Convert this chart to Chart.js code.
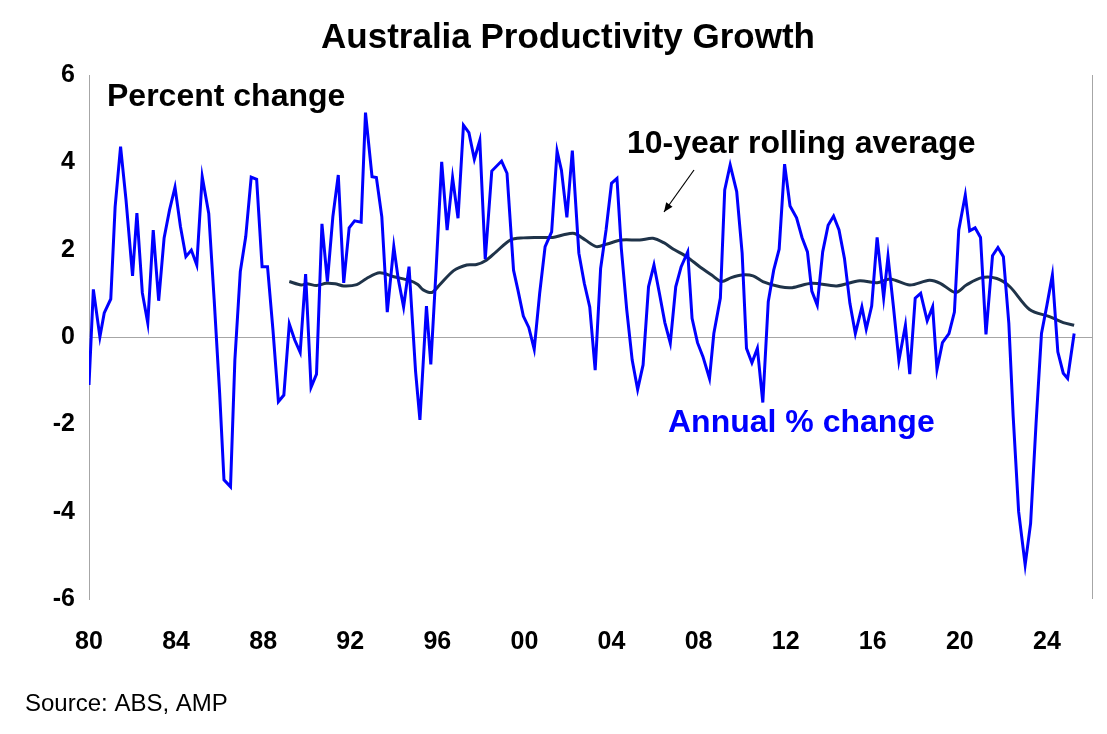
<!DOCTYPE html>
<html><head><meta charset="utf-8">
<script src="https://cdn.jsdelivr.net/npm/chart.js@4"></script>
<style>body{margin:0;background:#fff}</style>
</head><body>
<canvas id="c" width="1107" height="734"></canvas>
<script>
// annual % change, quarterly points (decimal year)
let annualYears = [1980.0,1980.2,1980.5,1980.7,1981.0,1981.2,1981.45,1981.7,1982.0,1982.2,1982.45,1982.7,1982.95,1983.2,1983.45,1983.7,1983.95,1984.2,1984.45,1984.7,1984.95,1985.2,1985.5,1985.75,1986.0,1986.2,1986.5,1986.7,1986.95,1987.2,1987.45,1987.7,1987.95,1988.2,1988.45,1988.7,1988.95,1989.2,1989.45,1989.7,1989.95,1990.2,1990.45,1990.7,1990.95,1991.2,1991.45,1991.7,1991.95,1992.2,1992.5,1992.7,1993.0,1993.2,1993.45,1993.7,1994.0,1994.2,1994.45,1994.7,1995.0,1995.2,1995.5,1995.7,1995.95,1996.2,1996.45,1996.7,1996.95,1997.2,1997.45,1997.7,1997.95,1998.2,1998.5,1998.95,1999.2,1999.5,1999.7,1999.95,2000.2,2000.45,2000.7,2000.95,2001.25,2001.5,2001.7,2001.95,2002.2,2002.5,2002.75,2003.0,2003.25,2003.5,2003.75,2004.0,2004.25,2004.45,2004.7,2004.95,2005.2,2005.45,2005.7,2005.95,2006.2,2006.45,2006.7,2006.95,2007.2,2007.5,2007.7,2007.95,2008.2,2008.5,2008.7,2009.0,2009.2,2009.45,2009.75,2010.0,2010.2,2010.45,2010.7,2010.95,2011.2,2011.45,2011.7,2011.95,2012.2,2012.5,2012.75,2013.0,2013.2,2013.45,2013.7,2013.95,2014.2,2014.45,2014.7,2014.95,2015.2,2015.5,2015.7,2015.95,2016.2,2016.5,2016.7,2016.95,2017.2,2017.5,2017.7,2017.95,2018.2,2018.5,2018.75,2018.95,2019.2,2019.5,2019.75,2019.95,2020.25,2020.45,2020.7,2020.95,2021.2,2021.5,2021.75,2022.0,2022.25,2022.45,2022.7,2023.0,2023.25,2023.5,2023.75,2024.0,2024.25,2024.5,2024.75,2024.95,2025.25];
let annualValues = [-1.10,1.09,0.0,0.55,0.87,2.98,4.36,3.14,1.40,2.84,1.01,0.32,2.45,0.83,2.27,2.91,3.43,2.53,1.84,1.99,1.65,3.67,2.83,0.85,-1.28,-3.27,-3.43,-0.53,1.50,2.30,3.66,3.61,1.61,1.61,0.16,-1.48,-1.33,0.30,-0.07,-0.35,1.44,-1.15,-0.85,2.59,1.27,2.75,3.71,1.24,2.50,2.66,2.63,5.14,3.67,3.65,2.75,0.57,2.07,1.34,0.69,1.61,-0.79,-1.90,0.71,-0.63,1.61,4.01,2.45,3.65,2.72,4.85,4.68,4.07,4.50,1.78,3.80,4.03,3.75,1.53,1.08,0.48,0.22,-0.28,1.00,2.07,2.41,4.26,3.82,2.74,4.27,1.92,1.23,0.69,-0.76,1.57,2.45,3.52,3.63,2.03,0.62,-0.53,-1.20,-0.64,1.15,1.65,1.00,0.33,-0.14,1.15,1.61,1.95,0.43,-0.13,-0.45,-0.95,0.08,0.89,3.37,3.94,3.33,1.92,-0.26,-0.59,-0.26,-1.50,0.81,1.53,2.01,3.96,3.00,2.73,2.28,1.95,1.05,0.73,1.95,2.56,2.77,2.45,1.80,0.77,0.08,0.69,0.18,0.71,2.28,0.90,1.84,0.69,-0.54,0.27,-0.85,0.89,1.00,0.37,0.69,-0.74,-0.13,0.08,0.57,2.45,3.25,2.43,2.50,2.28,0.06,1.86,2.05,1.84,0.31,-1.82,-4.00,-5.22,-4.27,-1.98,0.08,0.73,1.42,-0.34,-0.83,-0.95,0.08];

// 10-year rolling average
let avgYears = [1989.2,1989.75,1990.0,1990.45,1990.9,1991.3,1991.7,1992.3,1992.75,1993.35,1994.0,1994.75,1995.1,1995.35,1995.75,1996.1,1996.75,1997.35,1997.8,1998.25,1998.7,1999.35,1999.95,2000.55,2001.3,2001.8,2002.3,2002.8,2003.3,2003.8,2004.45,2005.3,2005.9,2006.4,2006.85,2007.45,2008.05,2008.6,2009.05,2009.5,2010.0,2010.5,2010.95,2011.75,2012.3,2013.2,2014.35,2015.4,2016.2,2016.8,2017.7,2018.6,2019.1,2019.8,2020.3,2021.0,2021.7,2022.3,2023.2,2024.15,2024.75,2025.25];
let avgValues = [1.27,1.19,1.22,1.18,1.23,1.22,1.17,1.20,1.34,1.47,1.38,1.29,1.20,1.08,1.02,1.19,1.52,1.65,1.66,1.76,1.95,2.22,2.27,2.28,2.28,2.34,2.37,2.22,2.07,2.13,2.22,2.22,2.26,2.16,2.01,1.84,1.61,1.42,1.27,1.36,1.42,1.40,1.27,1.15,1.13,1.23,1.17,1.29,1.24,1.33,1.19,1.30,1.23,1.02,1.19,1.36,1.34,1.15,0.63,0.46,0.33,0.27];

let xTicks = [1980,1984,1988,1992,1996,2000,2004,2008,2012,2016,2020,2024];
let yTicks = [-6,-4,-2,0,2,4,6];

function toPoints(xs, ys) {
    return xs.map((x, i) => ({x: x, y: ys[i]}));
}

let F = '"Liberation Sans", Arial, sans-serif';

let decorPlugin = {
    id: 'decor',
    afterDraw(chart) {
        let ctx = chart.ctx;
        let a = chart.chartArea;
        ctx.save();
        ctx.strokeStyle = '#a6a6a6';
        ctx.lineWidth = 1;
        ctx.beginPath();
        ctx.moveTo(a.right + 0.5, a.top);
        ctx.lineTo(a.right + 0.5, a.bottom);
        ctx.stroke();

        ctx.fillStyle = '#000';
        ctx.textBaseline = 'middle';
        ctx.textAlign = 'center';
        ctx.font = 'bold 35px ' + F;
        ctx.fillText('Australia Productivity Growth', 568, 38);
        ctx.textAlign = 'left';
        ctx.font = 'bold 32px ' + F;
        ctx.fillText('Percent change', 107, 97);
        ctx.fillText('10-year rolling average', 627, 144);
        ctx.fillStyle = '#0000ff';
        ctx.fillText('Annual % change', 668, 423);
        ctx.fillStyle = '#000';
        ctx.font = '24px ' + F;
        ctx.fillText('Source: ABS, AMP', 25, 704);

        // arrow
        let x1 = 694, y1 = 170, x2 = 664, y2 = 212;
        ctx.strokeStyle = '#000';
        ctx.lineWidth = 1.2;
        ctx.beginPath(); ctx.moveTo(x1, y1); ctx.lineTo(x2, y2); ctx.stroke();
        let ang = Math.atan2(y2 - y1, x2 - x1);
        ctx.beginPath();
        ctx.moveTo(x2, y2);
        ctx.lineTo(x2 - 10 * Math.cos(ang - 0.4), y2 - 10 * Math.sin(ang - 0.4));
        ctx.lineTo(x2 - 10 * Math.cos(ang + 0.4), y2 - 10 * Math.sin(ang + 0.4));
        ctx.closePath(); ctx.fill();
        ctx.restore();
    }
};

new Chart(document.getElementById('c'), {
    type: 'line',
    data: {
        datasets: [
            { data: toPoints(annualYears, annualValues), borderColor: '#0000ff', borderWidth: 3, pointRadius: 0, tension: 0 },
            { data: toPoints(avgYears, avgValues), borderColor: '#1f3349', borderWidth: 3, pointRadius: 0, tension: 0.3 }
        ]
    },
    options: {
        responsive: false,
        animation: false,
        layout: { padding: { top: 75, bottom: 75, left: 0, right: 15 } },
        plugins: { legend: { display: false }, tooltip: { enabled: false } },
        scales: {
            x: {
                type: 'linear', min: 1980, max: 2026.07,
                afterBuildTicks: s => { s.ticks = xTicks.map(v => ({value: v})); },
                afterFit: s => { s.height = 60; },
                grid: { display: false },
                border: { display: false },
                ticks: { color: '#000', font: { family: F, size: 25, weight: 'bold' }, padding: 20, maxRotation: 0,
                    callback: v => String(v % 100).padStart(2, '0') }
            },
            y: {
                min: -6, max: 6,
                afterBuildTicks: s => { s.ticks = yTicks.map(v => ({value: v})); },
                afterFit: s => { s.width = 89; },
                grid: { drawTicks: false, color: c => c.tick.value === 0 ? '#a6a6a6' : 'transparent' },
                border: { display: true, color: '#a6a6a6' },
                ticks: { color: '#000', font: { family: F, size: 25, weight: 'bold' }, padding: 14 }
            }
        }
    },
    plugins: [decorPlugin]
});
</script>
</body></html>
